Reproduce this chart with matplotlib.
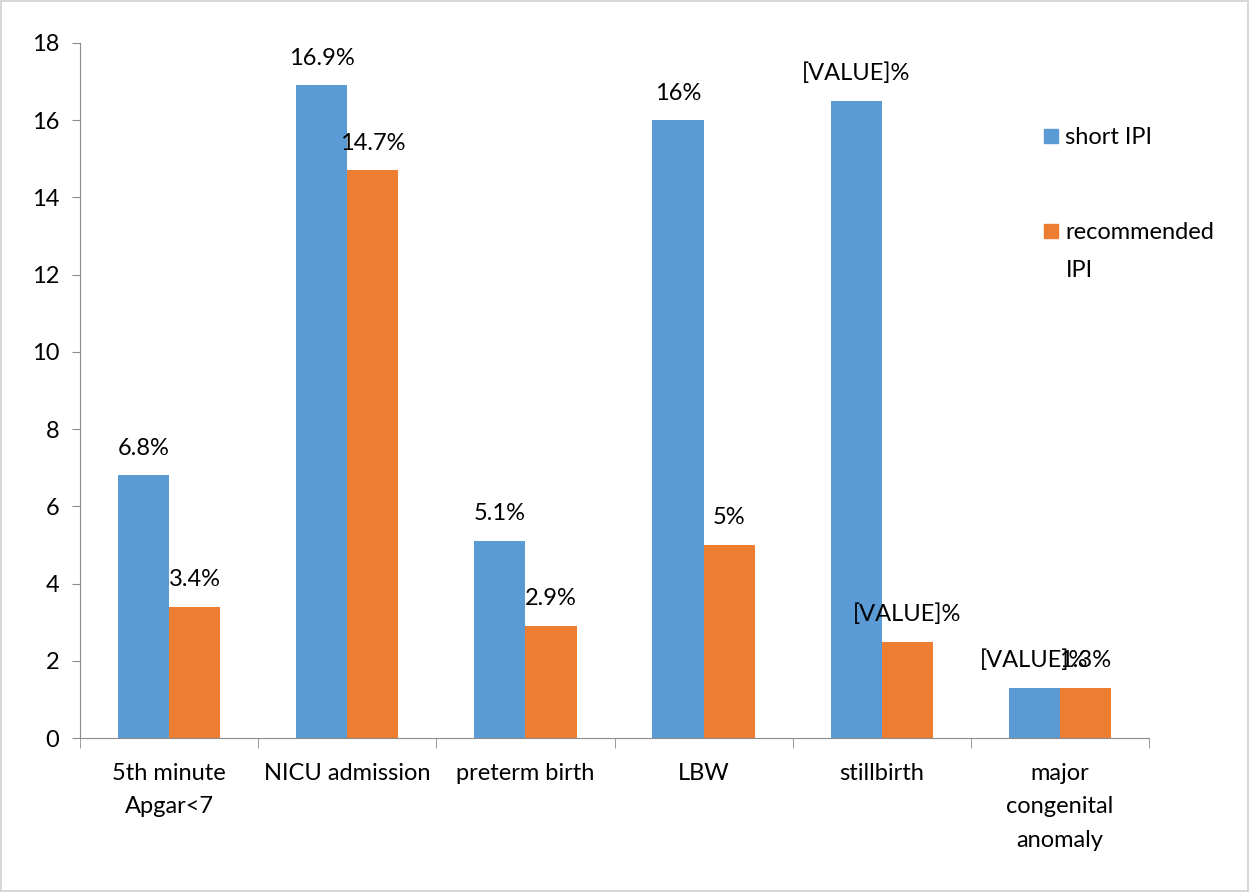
import numpy as np
import matplotlib
matplotlib.use("Agg")
import matplotlib.pyplot as plt
from matplotlib.patches import Rectangle

# data
categories = ["5th minute\nApgar<7", "NICU admission", "preterm birth", "LBW",
              "stillbirth", "major\ncongenital\nanomaly"]
short_ipi = [6.8, 16.9, 5.1, 16.0, 16.5, 1.3]
recommended_ipi = [3.4, 14.7, 2.9, 5.0, 2.5, 1.3]
short_labels = ["6.8%", "16.9%", "5.1%", "16%", "[VALUE]%", "[VALUE]%"]
rec_labels = ["3.4%", "14.7%", "2.9%", "5%", "[VALUE]%", "1.3%"]
series_names = ["short IPI", "recommended\nIPI"]

blue = "#5B9BD5"
orange = "#ED7D31"
axis_grey = "#8C8C8C"
fs = 17

plt.rcParams['font.family'] = ['Lato', 'DejaVu Sans']

fig = plt.figure(figsize=(12.49, 8.92), dpi=100)
ax = fig.add_axes([0.064, 0.1726, 0.856, 0.7792])

x = np.arange(len(categories))
w = 0.287
b1 = ax.bar(x - w / 2, short_ipi, w, color=blue)
b2 = ax.bar(x + w / 2, recommended_ipi, w, color=orange)

for bars, labels in ((b1, short_labels), (b2, rec_labels)):
    for bar, lab in zip(bars, labels):
        ax.annotate(lab, (bar.get_x() + bar.get_width() / 2, bar.get_height()),
                    xytext=(0, 12), textcoords="offset points",
                    ha="center", va="bottom", fontsize=fs, color="black")

ax.set_xlim(-0.5, len(categories) - 0.5)
ax.set_ylim(0, 18)
ax.set_yticks(np.arange(0, 19, 2))
ax.tick_params(axis="y", labelsize=fs, length=6, color=axis_grey, pad=9)

ax.set_xticks(x)
ax.set_xticklabels(categories, fontsize=fs, linespacing=1.72)
ax.tick_params(axis="x", length=0, pad=18)
ax.set_xticks(np.arange(-0.5, len(categories)), minor=True)
ax.tick_params(axis="x", which="minor", length=7, color=axis_grey)

for s in ("top", "right"):
    ax.spines[s].set_visible(False)
for s in ("left", "bottom"):
    ax.spines[s].set_color(axis_grey)

# legend, drawn by hand so the square sits on the first line of each label
legend_y = [0.8475, 0.741]
for name, col, ly in zip(series_names, (blue, orange), legend_y):
    fig.add_artist(Rectangle((0.8355, ly - 0.008), 0.0115, 0.016,
                             transform=fig.transFigure, color=col))
    fig.text(0.853, ly + 0.0105, name, fontsize=fs, va="top", ha="left",
             linespacing=2.0)

fig.add_artist(Rectangle((0.0008, 0.0011), 0.9984, 0.9978, transform=fig.transFigure,
                         fill=False, edgecolor="#D0D0D0", linewidth=1.2))

fig.savefig("out.png", dpi=100)
